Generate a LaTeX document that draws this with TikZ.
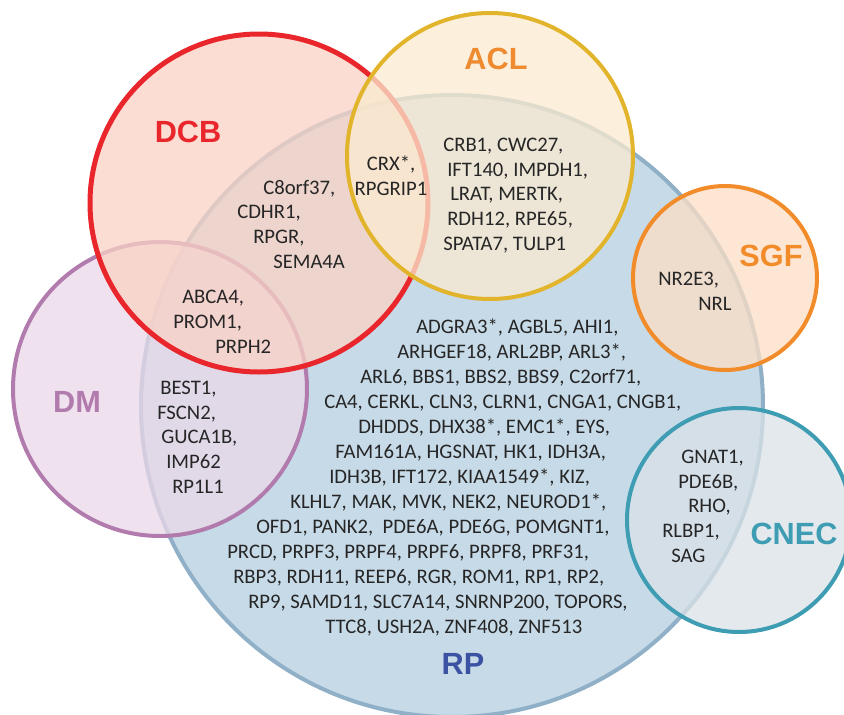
\documentclass[tikz,border=0pt]{standalone}
\usepackage{fontspec}
\setmainfont{Carlito}
\newfontfamily\setfont{Liberation Sans}
\usepackage{tikz}
\definecolor{rpfill}{HTML}{C7DAE8}
\definecolor{rpline}{HTML}{8FB0C6}
\definecolor{rptext}{HTML}{3B52A3}
\definecolor{dcbred}{HTML}{E8262B}
\definecolor{dcbfill}{HTML}{FAD2C4}
\definecolor{aclgold}{HTML}{E2B42C}
\definecolor{aclfill}{HTML}{FBEBD0}
\definecolor{acltext}{HTML}{EE8A30}
\definecolor{sgforange}{HTML}{F28C2B}
\definecolor{sgffill}{HTML}{FCDEC4}
\definecolor{cnecteal}{HTML}{3E9DB3}
\definecolor{cnecfill}{HTML}{DBE2E8}
\definecolor{dmpurple}{HTML}{B27BAE}
\definecolor{dmfill}{HTML}{EAD8E8}
\definecolor{genegray}{HTML}{262626}
\tikzstyle{setcircle} = [circle, inner sep=0pt, outer sep=0pt, line width=3pt, fill opacity=0.75]
\tikzstyle{setname} = [inner sep=0pt, font=\setfont\bfseries\fontsize{23}{23}\selectfont]
\tikzstyle{genes} = [inner sep=0pt, align=left, anchor=base west, text=genegray,
font=\fontsize{15.5}{18.5}\selectfont]

\begin{document}
\begin{tikzpicture}[x=0.75pt, y=-0.75pt]
	\useasboundingbox (0,0) rectangle (844,715);
	% the six sets
	\node (RP) [setcircle, draw=rpline, fill=rpfill, fill opacity=1, minimum size=466.5pt] at (452,406) {};
	\node (DM) [setcircle, draw=dmpurple, fill=dmfill, minimum size=220.5pt] at (160,389) {};
	\node (DCB) [setcircle, draw=dcbred, fill=dcbfill, line width=3.75pt, minimum size=253.5pt] at (259,203) {};
	\node (ACL) [setcircle, draw=aclgold, fill=aclfill, minimum size=214.5pt] at (490,156) {};
	\node (SGF) [setcircle, draw=sgforange, fill=sgffill, minimum size=138pt] at (725,278) {};
	\node (CNEC) [setcircle, draw=cnecteal, fill=cnecfill, minimum size=168pt] at (739,520) {};

	\node (DCBname) [setname, text=dcbred] at (188,132) {DCB};
	\node (ACLname) [setname, text=acltext] at (496,59) {ACL};
	\node (SGFname) [setname, text=sgforange] at (771,256) {SGF};
	\node (CNECname) [setname, text=cnecteal] at (794,534) {CNEC};
	\node (DMname) [setname, text=dmpurple] at (77,402) {DM};
	\node (RPname) [setname, text=rptext] at (463,664) {RP};

	% genes (placed by the baseline of their last line)
	\node (DCBRP) [genes] at (237,268) {\hspace*{19.5pt}C8orf37,\\CDHR1,\\\hspace*{12pt}RPGR,\\\hspace*{27pt}SEMA4A};
	\node (DCBACLRP) [genes, align=center, anchor=base] at (391,195) {CRX*,\\RPGRIP1};
	\node (ACLRP) [genes] at (443,250) {CRB1, CWC27,\\\hspace*{3pt}IFT140, IMPDH1,\\\hspace*{5.25pt}LRAT, MERTK,\\\hspace*{3pt}RDH12, RPE65,\\SPATA7, TULP1};
	\node (DCBDMRP) [genes] at (173,353) {\hspace*{6.75pt}ABCA4,\\PROM1,\\\hspace*{31.5pt}PRPH2};
	\node (DMRP) [genes] at (157,493) {\hspace*{2.25pt}BEST1,\\FSCN2,\\\hspace*{3pt}GUCA1B,\\\hspace*{6.75pt}IMP62\\\hspace*{11.25pt}RP1L1};
	\node (SGFRP) [genes] at (658,310) {NR2E3,\\\hspace*{30pt}NRL};
	\node (CNECRP) [genes] at (662,562) {\hspace*{14.25pt}GNAT1,\\\hspace*{12pt}PDE6B,\\\hspace*{19.5pt}RHO,\\RLBP1,\\\hspace*{6.75pt}SAG};
	\node (RPonly) [genes, font=\fontsize{15.5}{18.75}\selectfont] at (227,633) {\hspace*{141.75pt}ADGRA3*, AGBL5, AHI1,\\
	\hspace*{127.5pt}ARHGEF18, ARL2BP, ARL3*,\\
	\hspace*{99.75pt}ARL6, BBS1, BBS2, BBS9, C2orf71,\\
	\hspace*{72.75pt}CA4, CERKL, CLN3, CLRN1, CNGA1, CNGB1,\\
	\hspace*{98.25pt}DHDDS, DHX38*, EMC1*, EYS,\\
	\hspace*{81pt}FAM161A, HGSNAT, HK1, IDH3A,\\
	\hspace*{76.5pt}IDH3B, IFT172, KIAA1549*, KIZ,\\
	\hspace*{47.25pt}KLHL7, MAK, MVK, NEK2, NEUROD1*,\\
	\hspace*{21.75pt}OFD1, PANK2,~ PDE6A, PDE6G, POMGNT1,\\
	PRCD, PRPF3, PRPF4, PRPF6, PRPF8, PRF31,\\
	\hspace*{4.5pt}RBP3, RDH11, REEP6, RGR, ROM1, RP1, RP2,\\
	\hspace*{15.75pt}RP9, SAMD11, SLC7A14, SNRNP200, TOPORS,\\
	\hspace*{73.5pt}TTC8, USH2A, ZNF408, ZNF513};
\end{tikzpicture}
\end{document}
